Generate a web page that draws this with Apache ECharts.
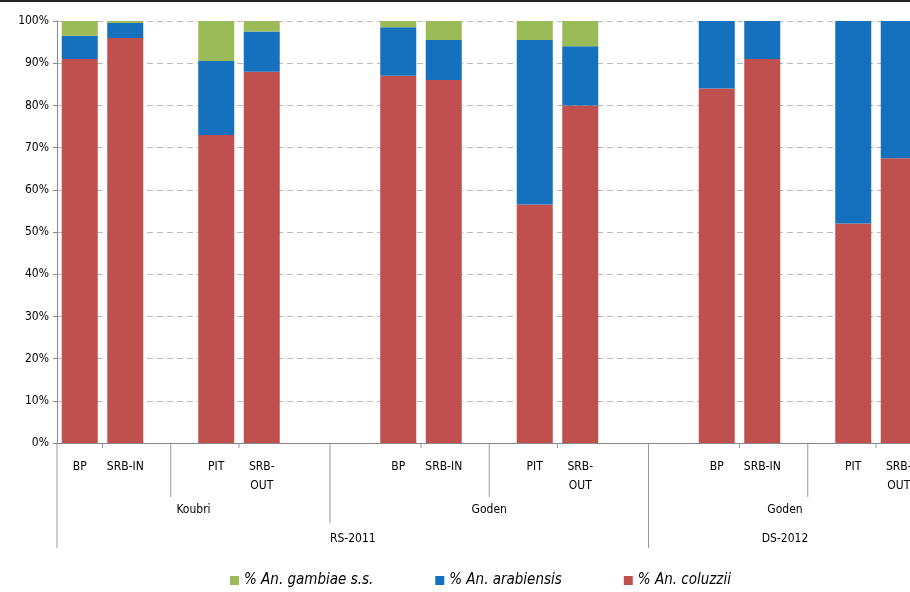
<!DOCTYPE html>
<html><head><meta charset="utf-8">
<script src="https://cdn.jsdelivr.net/npm/echarts@6/dist/echarts.min.js"></script>
<style>html,body{margin:0;padding:0;background:#fff;overflow:hidden}#c{width:922px;height:592px}</style>
</head><body><div id="c"></div>
<script>
const categories = ['BP','SRB-IN','','PIT','SRB-\nOUT','', '', 'BP','SRB-IN','','PIT','SRB-\nOUT','', '', 'BP','SRB-IN','','PIT','SRB-\nOUT'];
const coluzzii   = [91,96,null,73,88,null,null,87,86,null,56.5,80,null,null,84,91,null,52,67.5];
const arabiensis = [5.5,3.5,null,17.5,9.5,null,null,11.5,9.5,null,39,14,null,null,16,9,null,48,32.5];
const gambiae    = [3.5,0.5,null,9.5,2.5,null,null,1.5,4.5,null,4.5,6,null,null,0,0,null,0,0];
const sites   = [{name:'Koubri',from:0,to:6},{name:'Goden',from:6,to:13},{name:'Goden',from:13,to:19}];
const seasons = [{name:'RS-2011',from:0,to:13},{name:'DS-2012',from:13,to:19}];
const pairTicks = [1,4,8,11,15,18];
const subSeps = [2.5,9.5,16.5];

const FONT = "'DejaVu Sans Condensed','Open Sans',sans-serif";
const chart = echarts.init(document.getElementById('c'));
const mk = (name, data, color) => ({name, type:'bar', stack:'s', data, barWidth:36, itemStyle:{color}});
chart.setOption({
  animation:false,
  grid:{left:57, top:21, width:864.5, height:422},
  xAxis:{type:'category', data:categories,
    axisLine:{lineStyle:{color:'#888'}}, axisTick:{show:false},
    axisLabel:{interval:0, color:'#000', fontFamily:FONT, fontSize:12, margin:14, lineHeight:19}},
  yAxis:{type:'value', min:0, max:100, interval:10,
    axisLine:{show:true, lineStyle:{color:'#888'}}, axisTick:{show:true, length:4, lineStyle:{color:'#888'}},
    axisLabel:{formatter:'{value}%', color:'#000', fontFamily:FONT, fontSize:12, margin:8},
    splitLine:{lineStyle:{color:'#bbb', type:[6,4]}}},
  legend:{bottom:-1, left:225, itemWidth:9, itemHeight:9, itemGap:62, icon:'rect',
    textStyle:{fontStyle:'italic', fontFamily:FONT, fontSize:15, color:'#000'},
    data:['% An. gambiae s.s.','% An. arabiensis','% An. coluzzii']},
  series:[mk('% An. coluzzii',coluzzii,'#C0504D'), mk('% An. arabiensis',arabiensis,'#1570BE'), mk('% An. gambiae s.s.',gambiae,'#9BBB59')]
});
const x0 = chart.convertToPixel({xAxisIndex:0},0), x1 = chart.convertToPixel({xAxisIndex:0},1);
const w = x1-x0; const edge = s => x0 - w/2 + s*w;
const yA = chart.convertToPixel({yAxisIndex:0},0);
const g = [];
const line = (x,y1,y2)=>g.push({type:'line',shape:{x1:x,y1:y1,x2:x,y2:y2},style:{stroke:'#999',lineWidth:1}});
const txt = (x,y,t)=>g.push({type:'text',x:x,y:y,style:{text:t,fill:'#000',font:'12px '+FONT,align:'center',verticalAlign:'middle'}});
pairTicks.forEach(s=>line(edge(s),yA,yA+5));
subSeps.forEach(s=>line(edge(s),yA,yA+54));
[0,6,13].forEach(s=>line(edge(s),yA,yA+(s===6?80:105)));
sites.forEach(o=>txt((edge(o.from)+edge(o.to))/2,yA+67,o.name));
seasons.forEach(o=>txt((edge(o.from)+edge(o.to))/2,yA+96,o.name));
g.push({type:'line',shape:{x1:0,y1:1,x2:922,y2:1},style:{stroke:'#222',lineWidth:2}});
chart.setOption({graphic:g});
</script></body></html>
